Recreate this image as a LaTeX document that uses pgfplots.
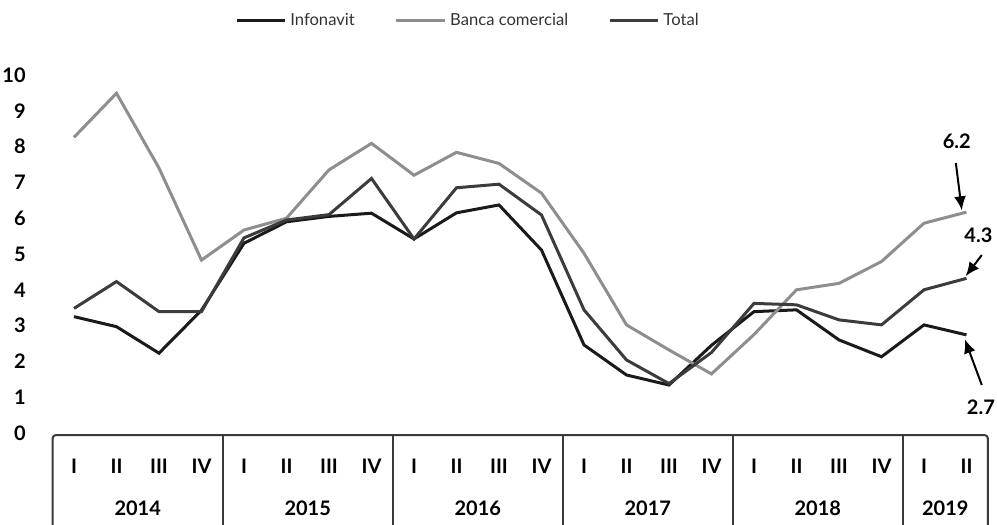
\documentclass[border=0pt]{standalone}
\usepackage{pgfplots}
\pgfplotsset{compat=1.18}
\usepackage{fontspec}
\setmainfont{Lato}
\usetikzlibrary{arrows.meta}
\definecolor{cInf}{HTML}{1A1A1A}
\definecolor{cBan}{HTML}{8E8E8E}
\definecolor{cTot}{HTML}{3C3C3C}
\definecolor{cBox}{HTML}{3A3A3A}
\begin{document}
\begin{tikzpicture}
\path[use as bounding box] (-26.375pt,-46pt) rectangle (472.125pt,216.5pt);
\begin{axis}[
  at={(0,0)}, anchor=south west,
  scale only axis, width=467.5pt, height=179pt,
  xmin=-0.5, xmax=21.5, ymin=0, ymax=10,
  clip=false,
  axis line style={draw=none},
  major tick length=0pt,
  ytick={0,1,...,10},
  yticklabel style={font=\fontsize{10}{12}\selectfont\bfseries, xshift=-10pt, anchor=east},
  /pgf/number format/assume math mode=true,
  xtick={0,1,...,21},
  xticklabels={I,II,III,IV,I,II,III,IV,I,II,III,IV,I,II,III,IV,I,II,III,IV,I,II},
  xticklabel style={font=\fontsize{10}{12}\selectfont\bfseries, anchor=center, yshift=-16.5pt},
  legend columns=3,
  legend style={draw=none, fill=none, at={(0.445,1.152)}, anchor=center,
    font=\fontsize{8.3}{10}\selectfont, text=black!80,
    /tikz/every even column/.append style={column sep=18pt}},
  legend image code/.code={\draw[#1] (0cm,0cm) -- (0.85cm,0cm);},
]
\addplot[cInf, line width=1.5pt] coordinates {
(0,3.25) (1,2.97) (2,2.23) (3,3.43) (4,5.30) (5,5.90) (6,6.05) (7,6.14)
(8,5.42) (9,6.15) (10,6.37) (11,5.11) (12,2.46) (13,1.62) (14,1.34) (15,2.45)
(16,3.39) (17,3.44) (18,2.60) (19,2.13) (20,3.02) (21,2.74)};
\addlegendentry{Infonavit}
\addplot[cBan, line width=1.5pt] coordinates {
(0,8.26) (1,9.49) (2,7.40) (3,4.83) (4,5.67) (5,6.00) (6,7.35) (7,8.09)
(8,7.20) (9,7.84) (10,7.53) (11,6.70) (12,5.02) (13,3.02) (14,2.32) (15,1.65)
(16,2.75) (17,4.00) (18,4.18) (19,4.79) (20,5.86) (21,6.17)};
\addlegendentry{Banca comercial}
\addplot[cTot, line width=1.5pt] coordinates {
(0,3.48) (1,4.23) (2,3.39) (3,3.39) (4,5.45) (5,5.95) (6,6.10) (7,7.11)
(8,5.42) (9,6.85) (10,6.95) (11,6.09) (12,3.44) (13,2.04) (14,1.38) (15,2.25)
(16,3.62) (17,3.58) (18,3.16) (19,3.02) (20,4.00) (21,4.32)};
\addlegendentry{Total}
% category table
\draw[cBox, line width=1pt, rounded corners=1.5pt] (axis cs:-0.5,-2.7) -- (axis cs:-0.5,-0.06) -- (axis cs:21.5,-0.06) -- (axis cs:21.5,-2.7);
\draw[cBox, line width=1pt] (axis cs:3.5,-0.06) -- (axis cs:3.5,-2.7);
\draw[cBox, line width=1pt] (axis cs:7.5,-0.06) -- (axis cs:7.5,-2.7);
\draw[cBox, line width=1pt] (axis cs:11.5,-0.06) -- (axis cs:11.5,-2.7);
\draw[cBox, line width=1pt] (axis cs:15.5,-0.06) -- (axis cs:15.5,-2.7);
\draw[cBox, line width=1pt] (axis cs:19.5,-0.06) -- (axis cs:19.5,-2.7);
\node[font=\fontsize{10}{12}\selectfont\bfseries] at (axis cs:1.5,-2.09) {2014};
\node[font=\fontsize{10}{12}\selectfont\bfseries] at (axis cs:5.5,-2.09) {2015};
\node[font=\fontsize{10}{12}\selectfont\bfseries] at (axis cs:9.5,-2.09) {2016};
\node[font=\fontsize{10}{12}\selectfont\bfseries] at (axis cs:13.5,-2.09) {2017};
\node[font=\fontsize{10}{12}\selectfont\bfseries] at (axis cs:17.5,-2.09) {2018};
\node[font=\fontsize{10}{12}\selectfont\bfseries] at (axis cs:20.5,-2.09) {2019};
% annotations
\node[font=\fontsize{10}{12}\selectfont\bfseries] at (axis cs:20.77,8.14) {6.2};
\draw[-{Latex[length=7pt,width=6pt]}, line width=1pt] (axis cs:20.75,7.54) -- (axis cs:20.89,6.22);
\node[font=\fontsize{10}{12}\selectfont\bfseries] at (axis cs:21.28,5.53) {4.3};
\draw[-{Latex[length=7pt,width=6pt]}, line width=1pt] (axis cs:21.36,4.97) -- (axis cs:20.98,4.38);
\node[font=\fontsize{10}{12}\selectfont\bfseries] at (axis cs:21.34,0.73) {2.7};
\draw[-{Latex[length=7pt,width=6pt]}, line width=1pt] (axis cs:21.36,1.34) -- (axis cs:20.96,2.62);
\end{axis}
\end{tikzpicture}
\end{document}
